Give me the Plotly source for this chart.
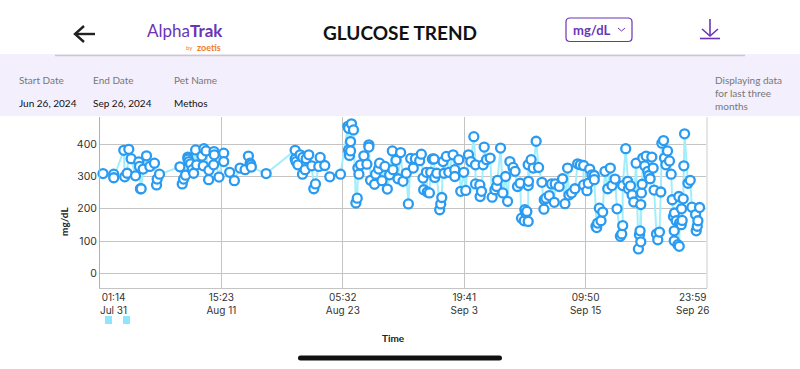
import pandas as pd
import plotly.graph_objects as go

# Days elapsed since Jul 31 01:14, and glucose readings (mg/dL)
days = [0.19,1.21,1.21,2.17,2.26,2.65,2.49,2.87,3.29,3.60,3.67,3.76,3.83,4.02,4.34,4.66,5.10,5.30,5.36,5.58,
7.53,7.75,7.88,8.07,8.29,8.29,8.39,8.55,8.71,8.84,9.03,9.12,9.63,9.82,10.02,9.76,10.30,10.27,10.75,10.78,10.81,11.26,11.71,11.71,12.28,12.73,13.27,13.75,14.07,14.23,14.29,14.35,15.76,
18.53,18.53,18.62,18.79,19.01,19.23,19.26,19.48,19.58,19.83,20.12,20.31,20.47,20.79,20.92,21.36,21.84,22.86,
23.63,23.63,23.72,23.82,23.82,23.91,24.10,23.56,24.33,24.46,24.62,24.52,24.77,25.09,25.38,25.57,25.57,25.73,26.11,26.21,26.50,26.59,26.82,27.10,27.33,27.55,27.81,27.87,28.16,28.35,28.60,28.83,29.14,29.34,29.56,29.81,30.01,30.42,30.58,30.74,30.80,31.06,31.15,31.35,31.47,31.63,31.79,31.86,32.05,32.33,32.43,32.53,32.75,32.65,32.97,33.20,33.61,33.77,33.77,34.15,34.34,34.63,34.82,35.08,35.30,35.59,35.75,35.75,36.16,36.19,36.32,36.48,36.58,36.80,37.15,37.34,37.60,37.76,37.85,38.14,38.36,38.62,38.81,39.03,
39.34,39.53,39.76,40.01,40.14,40.40,40.46,40.55,40.65,40.78,40.81,40.78,40.78,41.06,41.26,41.54,41.77,42.09,42.28,42.31,42.47,42.79,43.01,43.27,43.36,43.74,44.06,44.29,44.54,44.67,44.92,45.24,45.50,45.75,46.07,46.07,46.39,46.52,46.65,46.87,47.09,47.09,47.25,47.32,47.41,47.57,47.73,47.89,48.11,48.37,48.62,48.78,49.07,49.26,49.58,49.71,49.80,49.80,50.09,50.28,50.35,50.54,50.70,50.86,51.08,51.30,51.40,51.46,51.53,51.53,51.59,51.66,51.72,51.91,52.04,52.20,52.29,52.42,52.58,52.71,52.80,53.03,53.15,53.31,53.44,53.54,53.70,53.79,53.92,54.08,54.27,54.43,54.53,54.65,54.72,54.72,54.75,54.91,55.07,55.20,55.16,55.23,55.39,55.42,55.48,55.58,55.64,55.71,56.03,56.25,56.41,56.76,56.82,56.92,56.98,57.14]
glucose = [309,307,296,381,299,384,310,355,302,345,331,262,262,323,364,331,341,274,292,307,
330,277,292,304,360,354,346,339,321,310,382,336,363,386,379,333,319,290,336,377,367,298,372,346,313,287,326,321,363,341,336,329,309,
381,354,346,336,367,307,359,321,355,367,333,262,277,331,359,334,299,307,
382,449,365,408,379,463,444,455,218,233,307,326,336,364,338,398,391,288,276,307,323,341,287,331,261,305,379,321,350,293,374,285,310,215,356,326,355,349,369,295,259,313,252,249,313,354,354,297,310,197,215,235,310,346,362,313,367,321,300,352,254,313,257,367,346,423,336,277,274,238,254,336,391,352,357,236,259,269,288,388,249,300,223,346,
328,316,269,279,171,163,197,187,192,161,285,272,336,352,326,409,328,282,199,228,233,241,277,220,277,269,293,216,326,243,249,262,339,336,334,274,256,279,323,305,303,290,146,142,156,202,163,190,316,262,326,272,292,200,115,122,148,272,386,285,262,271,243,221,341,76,120,132,213,98,249,276,357,333,363,316,303,293,360,326,258,122,104,128,252,403,411,357,336,379,348,307,228,176,132,101,187,163,89,84,238,156,151,200,164,231,333,432,279,288,205,182,132,146,163,204]

tick_days = [-0.1, 11.49, 23.08, 34.67, 46.26, 57.85]
tick_labels = ["01:14<br>Jul 31", "15:23<br>Aug 11", "05:32<br>Aug 23", "19:41<br>Sep 3", "09:50<br>Sep 15", "23:59<br>Sep 26"]
y_ticks = [0, 100, 200, 300, 400]

df = pd.DataFrame({"d": days, "g": glucose}).sort_values("d", kind="stable")

W, H = 800, 369
L, R, T, B = 100, 707, 117, 288
PURPLE = "#6a35b5"
FONT = "Lato"

def fx(x): return (x - L) / (R - L)
def fy(y): return (B - y) / (B - T)

fig = go.Figure()
fig.add_trace(go.Scatter(
    x=df["d"], y=df["g"], mode="lines+markers", cliponaxis=False,
    line=dict(color="#a2eefc", width=2),
    marker=dict(size=9, color="white", line=dict(color="#2a9bf0", width=2.3)),
    showlegend=False))

shapes = []
def rect(x0, y0, x1, y1, fill, line=None, lw=0, layer="below"):
    shapes.append(dict(type="rect", xref="paper", yref="paper", x0=fx(x0), x1=fx(x1), y0=fy(y0), y1=fy(y1),
                       fillcolor=fill, line=dict(color=line or fill, width=lw), layer=layer))
def path(pts, color, lw):
    d = "M " + " L ".join(f"{fx(a):.5f},{fy(b):.5f}" for a, b in pts)
    shapes.append(dict(type="path", xref="paper", yref="paper", path=d, line=dict(color=color, width=lw), layer="above"))
def rounded(x0, y0, x1, y1, r, fill, line, lw):
    p = [f"M {fx(x0+r):.5f},{fy(y0):.5f}", f"L {fx(x1-r):.5f},{fy(y0):.5f}",
         f"Q {fx(x1):.5f},{fy(y0):.5f} {fx(x1):.5f},{fy(y0+r):.5f}", f"L {fx(x1):.5f},{fy(y1-r):.5f}",
         f"Q {fx(x1):.5f},{fy(y1):.5f} {fx(x1-r):.5f},{fy(y1):.5f}", f"L {fx(x0+r):.5f},{fy(y1):.5f}",
         f"Q {fx(x0):.5f},{fy(y1):.5f} {fx(x0):.5f},{fy(y1-r):.5f}", f"L {fx(x0):.5f},{fy(y0+r):.5f}",
         f"Q {fx(x0):.5f},{fy(y0):.5f} {fx(x0+r):.5f},{fy(y0):.5f} Z"]
    shapes.append(dict(type="path", xref="paper", yref="paper", path=" ".join(p), fillcolor=fill,
                       line=dict(color=line, width=lw), layer="above"))

rect(0, 54, 800, 116, "#f3effc")
path([(55, 55.5), (745, 55.5)], "#c9c9cc", 1.5)
rounded(566, 18, 632, 41.5, 4, "white", PURPLE, 1.2)
path([(618, 28), (621.5, 31), (625, 28)], PURPLE, 1)
path([(75, 34), (95, 34)], "#222222", 2.4)
path([(84, 26), (75, 34), (84, 42)], "#222222", 2.4)
path([(710, 19), (710, 36)], PURPLE, 1.6)
path([(702, 29), (710, 36), (718, 29)], PURPLE, 1.6)
path([(700, 38.5), (720, 38.5)], PURPLE, 1.6)
path([(707, 117), (707, 288)], "#e6e6e6", 2)
rect(105, 316, 112, 324, "#8fe6fc", layer="above")
rect(123, 316, 130, 324, "#8fe6fc", layer="above")
rounded(298, 355.5, 502, 360.5, 2.5, "#111111", "#111111", 0)

annotations = []
def txt(x, y, s, size, color="#222222", anchor="left", angle=0, family=FONT, align="center"):
    annotations.append(dict(xref="paper", yref="paper", x=fx(x), y=fy(y), text=s, showarrow=False,
                            xanchor=anchor, yanchor="middle", textangle=angle, align=align,
                            font=dict(size=size, color=color, family=family)))

txt(400, 32, "<b>GLUCOSE TREND</b>", 19, "#111111", "center")
txt(145, 30, "Alpha<b>Trak</b>", 17, PURPLE)
txt(223, 47.5, "<b>zoetis</b>", 9, "#f07d2a", "right")
txt(195, 47.5, "by", 6, "#f07d2a", "right")
txt(571, 30, "<b>mg/dL</b>", 13, PURPLE)
txt(17, 80, "Start Date", 10, "#777777")
txt(91, 80, "End Date", 10, "#777777")
txt(172, 80, "Pet Name", 10, "#777777")
txt(17, 103, "Jun 26, 2024", 10, "#111111")
txt(91, 103, "Sep 26, 2024", 10, "#111111")
txt(172, 103, "Methos", 10, "#111111")
txt(713, 93, "Displaying data<br>for last three<br>months", 10, "#777777", align="left")
txt(393, 338, "<b>Time</b>", 10, "#222222", "center")
txt(64, 222, "<b>mg/dL</b>", 10, "#222222", "center", -90)
# the outermost tick labels are pulled inside the plot width
txt(113, 303.5, tick_labels[0], 10, "#333333", "center", family="Inter")
txt(692, 303.5, tick_labels[-1], 10, "#333333", "center", family="Inter")

fig.update_layout(
    width=W, height=H, autosize=False,
    margin=dict(l=L, r=W - R, t=T, b=H - B, pad=0),
    paper_bgcolor="white", plot_bgcolor="white",
    font=dict(family="Inter", size=10, color="#333333"),
    shapes=shapes, annotations=annotations,
    xaxis=dict(range=[-0.1, 57.85], tickmode="array", tickvals=tick_days,
               ticktext=[""] + tick_labels[1:-1] + [""],
               showgrid=True, gridcolor="#c4c4c4", gridwidth=1, zeroline=False, ticks="",
               showline=True, linecolor="#c4c4c4", tickfont=dict(size=10, color="#333333")),
    yaxis=dict(range=[-45, 484], tickmode="array", tickvals=y_ticks,
               showgrid=True, gridcolor="#c4c4c4", gridwidth=1, zeroline=False, ticks="",
               showline=True, linecolor="#b0b0b0", tickfont=dict(size=10.5, color="#333333")),
)
fig.write_html("out.html", config={"displayModeBar": False}, post_script="document.body.style.margin='0';")
